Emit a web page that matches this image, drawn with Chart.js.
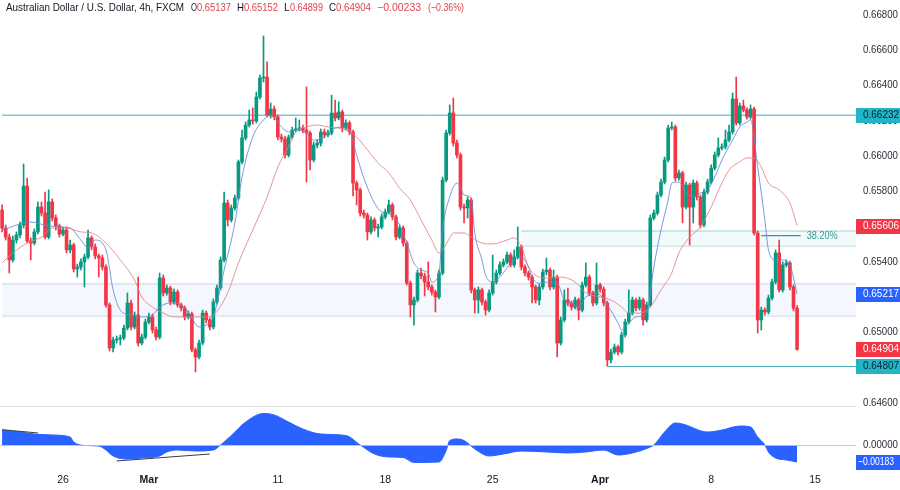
<!DOCTYPE html>
<html><head><meta charset="utf-8">
<script src="https://cdn.jsdelivr.net/npm/chart.js@4.4.1/dist/chart.umd.min.js"></script>
<style>
html,body{margin:0;padding:0;background:#fff;overflow:hidden}
#wrap{position:relative;width:900px;height:490px;background:#fff}
canvas{position:absolute;left:0}
#c1{top:0}
#c2{top:406px}
</style></head><body>
<div id="wrap"><canvas id="c1" width="900" height="406"></canvas><canvas id="c2" width="900" height="84"></canvas></div>
<script>
// ---- DATA (AUD/USD 4h, FXCM) : candle index 0..222 ----
const opens = [
0.65694,0.65592,0.65541,0.65411,0.65524,0.65553,0.65609,0.65830,0.65519,0.65507,
0.65570,0.65711,0.65677,0.65541,0.65740,0.65649,0.65604,0.65558,0.65581,0.65468,
0.65496,0.65360,0.65371,0.65400,0.65428,0.65536,0.65485,0.65434,0.65422,0.65371,
0.65156,0.64912,0.64957,0.64963,0.64969,0.65025,0.65167,0.65031,0.65099,0.64940,
0.64974,0.65059,0.65088,0.65014,0.64974,0.65309,0.65224,0.65252,0.65173,0.65229,
0.65156,0.65139,0.65088,0.65105,0.64901,0.64861,0.64940,0.65110,0.65071,0.65031,
0.65173,0.65252,0.65411,0.65734,0.65638,0.65706,0.65762,0.65967,0.66103,0.66176,
0.66205,0.66199,0.66335,0.66443,0.66448,0.66233,0.66267,0.66222,0.66108,0.66097,
0.66006,0.66108,0.66148,0.66154,0.66159,0.66148,0.66131,0.65978,0.66063,0.66074,
0.66137,0.66120,0.66131,0.66244,0.66216,0.66250,0.66159,0.66188,0.66137,0.65847,
0.65808,0.65677,0.65666,0.65570,0.65638,0.65592,0.65598,0.65655,0.65683,0.65723,
0.65655,0.65541,0.65592,0.65507,0.65280,0.65156,0.65184,0.65337,0.65320,0.65286,
0.65258,0.65229,0.65201,0.65337,0.65864,0.66131,0.66244,0.66074,0.66006,0.65711,
0.65706,0.65751,0.65241,0.65184,0.65241,0.65173,0.65127,0.65224,0.65286,0.65337,
0.65383,0.65400,0.65439,0.65383,0.65428,0.65485,0.65371,0.65337,0.65314,0.65258,
0.65184,0.65258,0.65343,0.65354,0.65258,0.65314,0.64940,0.65071,0.65184,0.65167,
0.65144,0.65184,0.65127,0.65269,0.65314,0.65224,0.65167,0.65269,0.65246,0.65167,
0.64844,0.64889,0.64918,0.64889,0.64986,0.65059,0.65110,0.65184,0.65139,0.65184,
0.65071,0.65156,0.65649,0.65677,0.65779,0.65853,0.65978,0.66159,0.66165,0.65876,
0.65904,0.65711,0.65836,0.65711,0.65847,0.65768,0.65609,0.65796,0.65853,0.65932,
0.66006,0.66046,0.66052,0.66091,0.66137,0.66324,0.66188,0.66284,0.66261,0.66222,
0.66267,0.65564,0.65071,0.65127,0.65116,0.65195,0.65286,0.65451,0.65241,0.65383,
0.65394,0.65258,0.65137];
const highs = [
0.65723,0.65609,0.65558,0.65547,0.65570,0.65626,0.65955,0.65876,0.65536,0.65587,
0.65740,0.65740,0.65796,0.65808,0.65757,0.65666,0.65615,0.65598,0.65598,0.65524,
0.65507,0.65388,0.65417,0.65445,0.65581,0.65547,0.65502,0.65445,0.65439,0.65383,
0.65167,0.64974,0.64980,0.64986,0.65042,0.65224,0.65184,0.65116,0.65314,0.64991,
0.65076,0.65110,0.65105,0.65031,0.65337,0.65326,0.65269,0.65263,0.65246,0.65241,
0.65167,0.65150,0.65122,0.65116,0.64912,0.64957,0.65127,0.65122,0.65082,0.65190,
0.65269,0.65428,0.65796,0.65751,0.65723,0.65779,0.65978,0.66148,0.66193,0.66261,
0.66273,0.66363,0.66460,0.66681,0.66534,0.66301,0.66284,0.66233,0.66125,0.66114,
0.66120,0.66165,0.66216,0.66205,0.66176,0.66392,0.66142,0.66080,0.66091,0.66154,
0.66154,0.66148,0.66346,0.66318,0.66307,0.66261,0.66205,0.66199,0.66148,0.65859,
0.65819,0.65694,0.65677,0.65655,0.65649,0.65615,0.65672,0.65700,0.65751,0.65734,
0.65666,0.65609,0.65604,0.65519,0.65292,0.65201,0.65354,0.65365,0.65337,0.65400,
0.65269,0.65241,0.65354,0.65881,0.66148,0.66290,0.66329,0.66091,0.66018,0.65728,
0.65768,0.65762,0.65252,0.65258,0.65252,0.65184,0.65241,0.65439,0.65354,0.65400,
0.65417,0.65456,0.65451,0.65468,0.65598,0.65496,0.65383,0.65348,0.65326,0.65269,
0.65275,0.65360,0.65422,0.65365,0.65354,0.65326,0.65088,0.65241,0.65252,0.65178,
0.65201,0.65195,0.65286,0.65394,0.65326,0.65235,0.65394,0.65280,0.65258,0.65178,
0.64906,0.64935,0.64929,0.65003,0.65076,0.65241,0.65201,0.65195,0.65201,0.65195,
0.65173,0.65666,0.65694,0.65796,0.65870,0.65995,0.66176,0.66193,0.66176,0.65921,
0.65915,0.65853,0.65847,0.65864,0.65859,0.65779,0.65813,0.65870,0.65950,0.66023,
0.66103,0.66069,0.66148,0.66176,0.66358,0.66448,0.66301,0.66318,0.66273,0.66290,
0.66278,0.65575,0.65144,0.65139,0.65212,0.65303,0.65468,0.65524,0.65400,0.65411,
0.65405,0.65269,0.65152];
const lows = [
0.65570,0.65524,0.65337,0.65400,0.65507,0.65536,0.65592,0.65507,0.65411,0.65496,
0.65558,0.65660,0.65530,0.65530,0.65632,0.65581,0.65541,0.65547,0.65451,0.65451,
0.65343,0.65314,0.65354,0.65258,0.65417,0.65468,0.65417,0.65314,0.65354,0.65144,
0.64895,0.64889,0.64940,0.64929,0.64957,0.65014,0.65014,0.65020,0.64923,0.64929,
0.64963,0.65048,0.64997,0.64957,0.64963,0.65207,0.65212,0.65156,0.65161,0.65144,
0.65122,0.65071,0.65076,0.64889,0.64776,0.64850,0.64929,0.65054,0.65014,0.65020,
0.65161,0.65241,0.65400,0.65604,0.65626,0.65694,0.65751,0.65955,0.66091,0.66165,
0.66182,0.66188,0.66324,0.66420,0.66222,0.66216,0.66205,0.66091,0.66080,0.65989,
0.65995,0.66097,0.66137,0.66142,0.66131,0.65853,0.65921,0.65967,0.66046,0.66057,
0.66103,0.66108,0.66120,0.66199,0.66205,0.66137,0.66148,0.66120,0.65774,0.65723,
0.65660,0.65649,0.65524,0.65558,0.65575,0.65541,0.65587,0.65643,0.65672,0.65638,
0.65524,0.65530,0.65490,0.65269,0.65088,0.65042,0.65173,0.65303,0.65207,0.65241,
0.65212,0.65116,0.65190,0.65326,0.65853,0.66120,0.66057,0.65989,0.65694,0.65621,
0.65649,0.65224,0.65110,0.65110,0.65156,0.65099,0.65116,0.65212,0.65275,0.65326,
0.65371,0.65388,0.65371,0.65371,0.65417,0.65354,0.65320,0.65297,0.65167,0.65167,
0.65156,0.65246,0.65326,0.65241,0.65246,0.64861,0.64929,0.65059,0.65150,0.65127,
0.65133,0.65071,0.65116,0.65258,0.65207,0.65150,0.65156,0.65229,0.65150,0.64810,
0.64827,0.64878,0.64872,0.64878,0.64974,0.65048,0.65099,0.65122,0.65127,0.65042,
0.65059,0.65144,0.65638,0.65666,0.65768,0.65842,0.65967,0.66148,0.65859,0.65864,
0.65621,0.65700,0.65496,0.65621,0.65751,0.65592,0.65598,0.65785,0.65842,0.65921,
0.65995,0.66035,0.66040,0.66080,0.66125,0.66176,0.66176,0.66250,0.66210,0.66210,
0.65553,0.64997,0.65014,0.65099,0.65105,0.65184,0.65275,0.65229,0.65229,0.65371,
0.65241,0.65122,0.64899];
const closes = [
0.65592,0.65541,0.65411,0.65524,0.65553,0.65609,0.65830,0.65519,0.65507,0.65570,
0.65711,0.65677,0.65541,0.65740,0.65649,0.65604,0.65558,0.65581,0.65468,0.65496,
0.65360,0.65371,0.65400,0.65428,0.65536,0.65485,0.65434,0.65422,0.65371,0.65156,
0.64912,0.64957,0.64963,0.64969,0.65025,0.65167,0.65031,0.65099,0.64940,0.64974,
0.65059,0.65088,0.65014,0.64974,0.65309,0.65224,0.65252,0.65173,0.65229,0.65156,
0.65139,0.65088,0.65105,0.64901,0.64861,0.64940,0.65110,0.65071,0.65031,0.65173,
0.65252,0.65411,0.65734,0.65638,0.65706,0.65762,0.65967,0.66103,0.66176,0.66205,
0.66199,0.66335,0.66443,0.66448,0.66233,0.66267,0.66222,0.66108,0.66097,0.66006,
0.66108,0.66148,0.66154,0.66159,0.66148,0.66131,0.65978,0.66063,0.66074,0.66137,
0.66120,0.66131,0.66244,0.66216,0.66250,0.66159,0.66188,0.66137,0.65847,0.65808,
0.65677,0.65666,0.65570,0.65638,0.65592,0.65598,0.65655,0.65683,0.65723,0.65655,
0.65541,0.65592,0.65507,0.65280,0.65156,0.65184,0.65337,0.65320,0.65286,0.65258,
0.65229,0.65201,0.65337,0.65864,0.66131,0.66244,0.66074,0.66006,0.65711,0.65706,
0.65751,0.65241,0.65184,0.65241,0.65173,0.65127,0.65224,0.65286,0.65337,0.65383,
0.65400,0.65439,0.65383,0.65428,0.65485,0.65371,0.65337,0.65314,0.65258,0.65184,
0.65258,0.65343,0.65354,0.65258,0.65314,0.64940,0.65071,0.65184,0.65167,0.65144,
0.65184,0.65127,0.65269,0.65314,0.65224,0.65167,0.65269,0.65246,0.65167,0.64844,
0.64889,0.64918,0.64889,0.64986,0.65059,0.65110,0.65184,0.65139,0.65184,0.65071,
0.65156,0.65649,0.65677,0.65779,0.65853,0.65978,0.66159,0.66165,0.65876,0.65904,
0.65711,0.65836,0.65711,0.65847,0.65768,0.65609,0.65796,0.65853,0.65932,0.66006,
0.66046,0.66052,0.66091,0.66137,0.66324,0.66188,0.66284,0.66261,0.66222,0.66267,
0.65564,0.65071,0.65127,0.65116,0.65195,0.65286,0.65451,0.65241,0.65383,0.65394,
0.65258,0.65137,0.64904];

// fast (blue) and slow (red) moving averages, read at candle indices
const blueMaIdx = [0,8,12,16,19,22,24,26,29,31,33,36,39,42,44,47,50,52,55,57,59,62,65,67,70,73,75,78,80,82,85,87,90,92,95,97,99,101,104,106,109,111,113,115,117,119,120,122,123,125,127,128,129,131,132,134,135,137,139,141,143,145,147,148,150,152,155,157,159,161,163,166,169,172,173,175,177,180,182,184,186,187,189,191,193,195,197,199,201,202,204,206,208,209,211,213,214,216,218,220,222];
const blueMaVal = [0.65581,0.65626,0.65609,0.65598,0.65592,0.65524,0.65479,0.65524,0.65468,0.65241,0.65127,0.65099,0.65088,0.65099,0.65144,0.65167,0.65156,0.65116,0.65031,0.65042,0.65088,0.65354,0.65621,0.65881,0.66108,0.66205,0.66233,0.66165,0.66137,0.66148,0.66131,0.66091,0.66108,0.66148,0.66165,0.66148,0.66006,0.65876,0.65734,0.65683,0.65666,0.65609,0.65507,0.65394,0.65354,0.65337,0.65286,0.65337,0.65581,0.65768,0.65847,0.65825,0.65779,0.65762,0.65564,0.65411,0.65326,0.65286,0.65314,0.65365,0.65411,0.65428,0.65371,0.65314,0.65280,0.65286,0.65280,0.65184,0.65167,0.65144,0.65201,0.65224,0.65156,0.65054,0.65014,0.65054,0.65088,0.65110,0.65371,0.65581,0.65751,0.65847,0.65853,0.65791,0.65768,0.65791,0.65808,0.65881,0.65978,0.66018,0.66091,0.66165,0.66193,0.66205,0.65938,0.65638,0.65468,0.65411,0.65411,0.65383,0.65217];
const redMaIdx = [0,3,7,11,14,18,22,25,29,33,37,39,42,45,48,52,54,57,59,63,66,70,74,77,80,82,85,88,91,94,96,99,102,105,108,111,114,117,120,122,123,125,126,129,131,134,137,141,143,145,147,150,152,156,160,163,167,170,173,175,178,181,184,187,189,192,195,198,201,203,206,208,210,212,214,217,220,222];
const redMaVal = [0.65394,0.65451,0.65507,0.65541,0.65592,0.65592,0.65570,0.65564,0.65507,0.65411,0.65297,0.65201,0.65144,0.65110,0.65088,0.65088,0.65088,0.65088,0.65099,0.65224,0.65394,0.65581,0.65768,0.65938,0.66052,0.66137,0.66165,0.66176,0.66165,0.66159,0.66148,0.66108,0.66035,0.65961,0.65904,0.65819,0.65751,0.65638,0.65524,0.65451,0.65468,0.65536,0.65564,0.65564,0.65541,0.65507,0.65502,0.65524,0.65536,0.65485,0.65371,0.65314,0.65309,0.65314,0.65286,0.65224,0.65201,0.65184,0.65144,0.65110,0.65110,0.65144,0.65241,0.65337,0.65451,0.65541,0.65598,0.65711,0.65847,0.65921,0.65967,0.65989,0.65989,0.65938,0.65847,0.65808,0.65734,0.65606];

// lower pane oscillator
const oscIdx = [0,5,9,14,19,20,23,27,29,31,35,39,44,46,49,54,59,61,64,68,73,76,80,84,89,96,100,104,108,112,115,122,124,125,127,129,132,136,140,145,152,158,163,168,172,176,181,182,185,188,190,197,201,206,209,211,213,214,216,219,222];
const oscVal = [0.00161,0.00140,0.00118,0.00108,0.00086,0.00032,-0.00005,-0.00011,-0.00054,-0.00118,-0.00151,-0.00140,-0.00118,-0.00075,-0.00054,-0.00065,-0.00054,0,0.00102,0.00247,0.00339,0.00323,0.00247,0.00172,0.00118,0.00102,0,-0.00097,-0.00129,-0.00135,-0.00188,-0.00183,-0.00061,0.00048,0.00065,0.00048,-0.00043,-0.00118,-0.00097,-0.00065,-0.00075,-0.00086,-0.00075,-0.00054,-0.00108,-0.00086,-0.00022,0,0.00140,0.00237,0.00226,0.00140,0.00161,0.00204,0.00194,0.00086,0,-0.00075,-0.00140,-0.00161,-0.00183];
const oscTrend1Idx = [0, 10];  const oscTrend1Val = [0.00165, 0.00129];
const oscTrend2Idx = [32, 58]; const oscTrend2Val = [-0.00172, -0.00097];

// levels / zones
const levelValues = [0.66232, 0.64807];
const levelStartIdx = [0, 169];
const zoneA = [0.65275, 0.65093]; const zoneAStart = 0;
const zoneB = [0.65575, 0.65490]; const zoneBStart = 145;
const fibValue = 0.65549; const fibIdx = [212, 223]; const fibLabel = '38.20%';

// ticks
const priceTicks = [0.668,0.666,0.664,0.662,0.660,0.658,0.656,0.654,0.652,0.650,0.648,0.646];
const oscTicks = [0];
const dateTickIdx = [17, 41, 77, 107, 137, 167, 198, 227];
const dateTickLabels = ['26','Mar','11','18','25','Apr','8','15'];
const boldLabels = ['Mar','Apr'];
const titleText = 'Australian Dollar / U.S. Dollar, 4h, FXCM';

// ---- styling ----
const UP = '#089981', DOWN = '#f23645';
const X_MIN = -0.586, X_MAX = 238.45;
const FONT = '"Liberation Sans", Arial, sans-serif';
const last = closes.length - 1;
const colorOf = i => closes[i] >= opens[i] ? UP : DOWN;
const pts = (ix, vals) => ix.map((t, k) => ({x: t, y: vals[k]}));
const hline = (v, from) => [{x: from, y: v}, {x: X_MAX + 1, y: v}];

const mainDatasets = [
  {type:'line', data: hline(zoneA[0], zoneAStart), borderColor:'#c9d1e2', borderWidth:1, pointRadius:0, fill:'+1', backgroundColor:'rgba(232,238,252,0.45)', order:10},
  {type:'line', data: hline(zoneA[1], zoneAStart), borderColor:'#c9d1e2', borderWidth:1, pointRadius:0, fill:false, order:10},
  {type:'line', data: hline(zoneB[0], zoneBStart), borderColor:'#9fd0d5', borderWidth:1, pointRadius:0, fill:'+1', backgroundColor:'rgba(225,242,244,0.4)', order:10},
  {type:'line', data: hline(zoneB[1], zoneBStart), borderColor:'#b3d6dc', borderWidth:1, pointRadius:0, fill:false, order:10},
  {type:'line', data: hline(levelValues[0], levelStartIdx[0]), borderColor:'#48a9b6', borderWidth:1, pointRadius:0, fill:false, order:9},
  {type:'line', data: hline(levelValues[1], levelStartIdx[1]), borderColor:'#48a9b6', borderWidth:1, pointRadius:0, fill:false, order:9},
  {type:'line', data: [{x:fibIdx[0], y:fibValue},{x:fibIdx[1], y:fibValue}], borderColor:'#2e9c94', borderWidth:1.2, pointRadius:0, fill:false, order:9},
  {type:'bar', data: lows.map((l,i)=>({x:i, y:[l, highs[i]]})), backgroundColor: ctx => colorOf(ctx.dataIndex), barThickness:1, minBarLength:1, grouped:false, borderWidth:0, order:5},
  {type:'bar', data: opens.map((o,i)=>({x:i, y:[o, closes[i]]})), backgroundColor: ctx => colorOf(ctx.dataIndex), barThickness:3, minBarLength:1, grouped:false, borderWidth:0, order:4},
  {type:'line', data: pts(redMaIdx, redMaVal), borderColor:'rgba(226,132,132,0.85)', borderWidth:1, pointRadius:0, fill:false, cubicInterpolationMode:'monotone', order:2},
  {type:'line', data: pts(blueMaIdx, blueMaVal), borderColor:'rgba(100,135,215,0.85)', borderWidth:1, pointRadius:0, fill:false, cubicInterpolationMode:'monotone', order:1}
];

function box(ctx, py, bg, fg, text, tx) {
  ctx.fillStyle = bg; ctx.fillRect(856, Math.round(py) - 7, 44, 15);
  ctx.fillStyle = fg; ctx.fillText(text, tx, Math.round(py) + 0.5, 36);
}

const mainPlugin = {
  id: 'mainText',
  afterDraw(chart) {
    const ctx = chart.ctx, y = chart.scales.y, x = chart.scales.x;
    ctx.save();
    ctx.textBaseline = 'middle'; ctx.textAlign = 'left';
    ctx.font = '10.5px ' + FONT;
    ctx.fillStyle = '#2a2e39';
    priceTicks.forEach(v => ctx.fillText(v.toFixed(5), 863, y.getPixelForValue(v), 35));
    // value boxes
    box(ctx, y.getPixelForValue(levelValues[0]), '#22b5c6', '#0b2030', levelValues[0].toFixed(5), 863);
    box(ctx, y.getPixelForValue(redMaVal[redMaVal.length-1]), '#f23645', '#ffffff', redMaVal[redMaVal.length-1].toFixed(5), 863);
    box(ctx, y.getPixelForValue(blueMaVal[blueMaVal.length-1]), '#2962ff', '#ffffff', blueMaVal[blueMaVal.length-1].toFixed(5), 863);
    box(ctx, y.getPixelForValue(closes[last]), '#f23645', '#ffffff', closes[last].toFixed(5), 863);
    box(ctx, y.getPixelForValue(levelValues[1]), '#22b5c6', '#0b2030', levelValues[1].toFixed(5), 863);
    // fib label
    ctx.fillStyle = '#2e9c94';
    ctx.fillText(fibLabel, x.getPixelForValue(fibIdx[1]) + 6, y.getPixelForValue(fibValue), 31);
    // title
    const o = opens[last], h = highs[last], l = lows[last], c = closes[last];
    const chg = c - closes[last-1];
    const pct = chg / closes[last-1] * 100;
    ctx.font = '10.5px ' + FONT;
    ctx.fillStyle = '#131722';
    ctx.fillText(titleText, 6, 8, 178);
    const red = '#e2424d';
    const parts = [['O',191,6],[o.toFixed(5),197,34,red],['H',237,7],[h.toFixed(5),244,34,red],
      ['L',284,6],[l.toFixed(5),290,33,red],['C',329,7],[c.toFixed(5),336,35,red],
      [(chg<0?'\u2212':'+')+Math.abs(chg).toFixed(5),377,46,red],['('+(pct<0?'\u2212':'+')+Math.abs(pct).toFixed(2)+'%)',428,36,red]];
    parts.forEach(p => { ctx.fillStyle = p[3] || '#131722'; ctx.fillText(p[0], p[1], 8, p[2]); });
    ctx.restore();
  }
};

new Chart(document.getElementById('c1'), {
  type: 'bar',
  data: { datasets: mainDatasets },
  options: {
    responsive:false, animation:false, devicePixelRatio:1, events:[],
    layout:{padding:{left:0, right:44, top:0, bottom:0}},
    plugins:{legend:{display:false}, tooltip:{enabled:false}},
    scales:{
      x:{type:'linear', min:X_MIN, max:X_MAX, display:false, offset:false},
      y:{type:'linear', min:0.64583, max:0.66885, display:false, beginAtZero:false}
    }
  },
  plugins:[mainPlugin]
});

const oscPlugin = {
  id: 'oscText',
  beforeDatasetsDraw(chart) {
    const ctx = chart.ctx;
    ctx.save();
    ctx.strokeStyle = '#e0e3eb'; ctx.lineWidth = 1;
    ctx.beginPath(); ctx.moveTo(0, 0.5); ctx.lineTo(856, 0.5); ctx.stroke();
    ctx.restore();
  },
  afterDraw(chart) {
    const ctx = chart.ctx, y = chart.scales.y, x = chart.scales.x;
    ctx.save();
    const y0 = Math.round(y.getPixelForValue(0)) + 0.5;
    ctx.strokeStyle = 'rgba(170,195,250,0.9)'; ctx.lineWidth = 1;
    ctx.beginPath(); ctx.moveTo(0, y0); ctx.lineTo(chart.chartArea.right, y0); ctx.stroke();
    ctx.textBaseline = 'middle'; ctx.textAlign = 'left';
    ctx.font = '10.5px ' + FONT;
    ctx.fillStyle = '#2a2e39';
    oscTicks.forEach(v => ctx.fillText(v.toFixed(5), 863, y.getPixelForValue(v), 35));
    const lv = oscVal[oscVal.length-1];
    box(ctx, y.getPixelForValue(lv), '#2962ff', '#ffffff', (lv<0?'\u2212':'')+Math.abs(lv).toFixed(5), 858);
    ctx.fillStyle = '#131722'; ctx.textAlign = 'center';
    dateTickIdx.forEach((t, k) => {
      const lab = dateTickLabels[k];
      ctx.font = (boldLabels.includes(lab) ? 'bold ' : '') + '10.5px ' + FONT;
      ctx.fillText(lab, x.getPixelForValue(t), 74);
    });
    ctx.restore();
  }
};

new Chart(document.getElementById('c2'), {
  type: 'line',
  data: { datasets: [
    {data: pts(oscIdx, oscVal), borderColor:'#2962ff', backgroundColor:'#2962ff', borderWidth:1, pointRadius:0, fill:'origin', cubicInterpolationMode:'monotone', order:3},
    {data: pts(oscTrend1Idx, oscTrend1Val), borderColor:'#3a3d45', borderWidth:1, pointRadius:0, fill:false, order:1},
    {data: pts(oscTrend2Idx, oscTrend2Val), borderColor:'#3a3d45', borderWidth:1, pointRadius:0, fill:false, order:1}
  ]},
  options: {
    responsive:false, animation:false, devicePixelRatio:1, events:[],
    layout:{padding:{left:0, right:44, top:0, bottom:22}},
    plugins:{legend:{display:false}, tooltip:{enabled:false}},
    scales:{
      x:{type:'linear', min:X_MIN, max:X_MAX, display:false, offset:false},
      y:{type:'linear', min:-0.002475, max:0.004196, display:false}
    }
  },
  plugins:[oscPlugin]
});
</script>
</body></html>
